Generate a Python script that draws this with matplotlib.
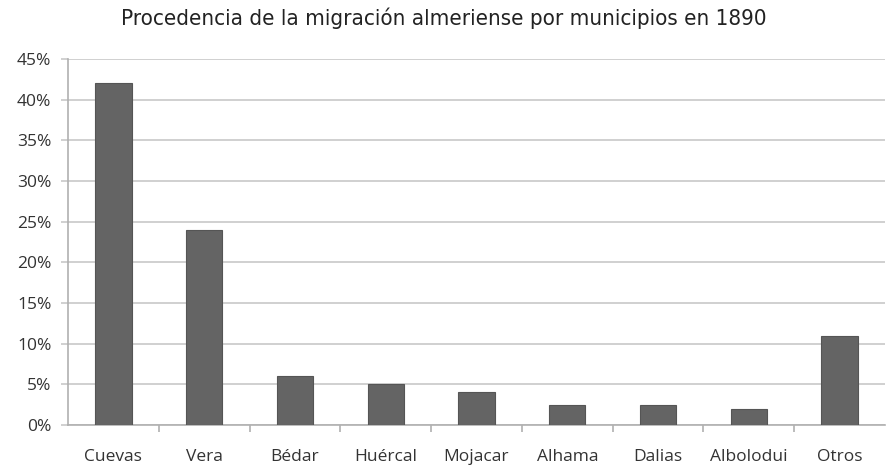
import matplotlib.pyplot as plt
import numpy as np
from matplotlib.ticker import FixedLocator, PercentFormatter

municipios = ['Cuevas', 'Vera', 'Bédar', 'Huércal', 'Mojacar', 'Alhama',
              'Dalias', 'Albolodui', 'Otros']
porcentajes = [42, 24, 6, 5, 4, 2.5, 2.5, 2, 11]
yticks = [0, 5, 10, 15, 20, 25, 30, 35, 40, 45]

fig = plt.figure(figsize=(8.87, 4.68), dpi=100)
ax = fig.add_axes([68 / 887, 1 - 425 / 468, 817 / 887, 366 / 468])

x = np.arange(len(municipios))
ax.bar(x, porcentajes, width=0.4, color='#646464', edgecolor='#555555',
       linewidth=0.8, zorder=3)

ax.set_xlim(-0.5, len(municipios) - 0.5)
ax.set_ylim(0, 45)
ax.set_yticks(yticks)
ax.yaxis.set_major_formatter(PercentFormatter(decimals=0))
ax.grid(axis='y', color='#c8c8c8', linewidth=1.2, zorder=0)

# etiquetas del eje x sin marca, marcas pequeñas entre categorías
ax.set_xticks(x)
ax.set_xticklabels(municipios)
ax.xaxis.set_minor_locator(FixedLocator(np.arange(0.5, len(municipios) - 0.5, 1)))
ax.tick_params(axis='x', which='major', length=0, pad=17)
ax.tick_params(axis='x', which='minor', length=5, color='#b0b0b0', width=1.2)
ax.tick_params(axis='y', length=5, color='#c8c8c8', width=1.2, pad=7)

for lab in ax.get_xticklabels() + ax.get_yticklabels():
    lab.set_family(['Open Sans', 'DejaVu Sans'])
    lab.set_fontsize(12.5)
    lab.set_color('#333333')

for s in ['top', 'right']:
    ax.spines[s].set_visible(False)
ax.spines['left'].set_color('#b0b0b0')
ax.spines['left'].set_linewidth(1.2)
ax.spines['bottom'].set_color('#b0b0b0')
ax.spines['bottom'].set_linewidth(1.2)

fig.text(0.5, 1 - 18 / 468, 'Procedencia de la migración almeriense por municipios en 1890',
         ha='center', va='center', fontsize=16, color='#222222',
         family='DejaVu Sans', stretch='condensed')

fig.savefig('out.png', dpi=100)
